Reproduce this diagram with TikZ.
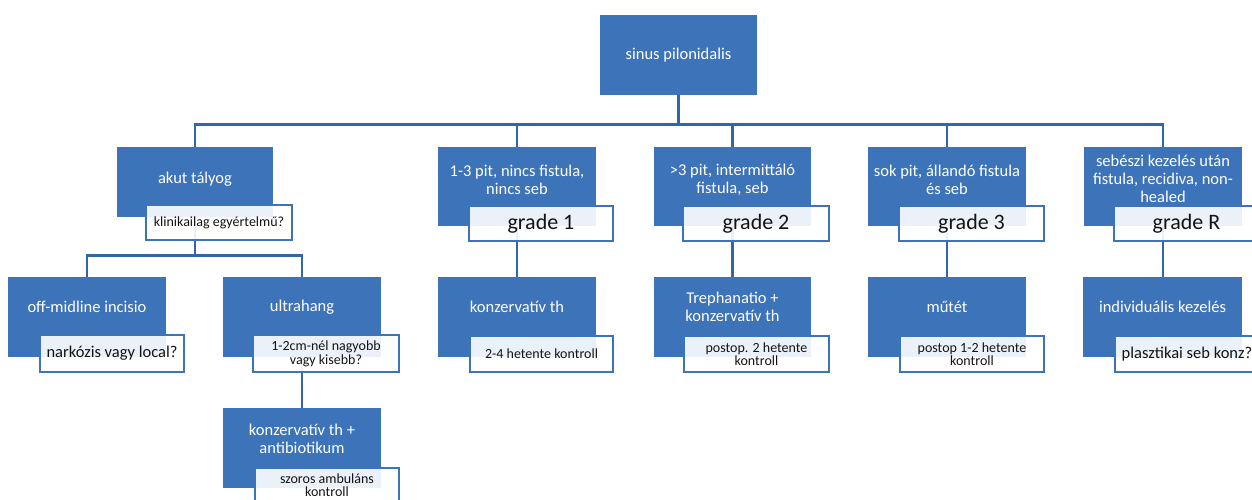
\documentclass[tikz,border=0pt]{standalone}
\usepackage{fontspec}
\setmainfont{Carlito}
\usetikzlibrary{fit}
\pgfdeclarelayer{bg}
\pgfsetlayers{bg,main}
\definecolor{boxblue}{RGB}{61,115,185}
\definecolor{lineblue}{RGB}{52,100,170}
\definecolor{txtdark}{RGB}{20,20,20}
\tikzset{
 bluebox/.style={fill=boxblue, draw=none, inner sep=0pt},
 whitebox/.style={fill=white, fill opacity=0.9, draw=boxblue, draw opacity=1, line width=2pt, inner sep=0pt},
 maintext/.style={text=white, font=\fontsize{16.5}{18}\selectfont, align=center, inner sep=0pt},
 gradetext/.style={text=txtdark, font=\fontsize{22}{24}\selectfont, inner sep=0pt},
 smalltext/.style={text=txtdark, font=\fontsize{14}{13.5}\selectfont, align=center, inner sep=0pt},
 midtext/.style={text=txtdark, font=\fontsize{16.5}{18}\selectfont, inner sep=0pt},
 conn/.style={draw=lineblue, line width=2.6pt},
}
\begin{document}
\begin{tikzpicture}[x=1pt,y=-1pt]
\useasboundingbox (0,0) rectangle (1252,499);
\begin{scope}
\clip (0,0) rectangle (1252,499);
% level 1
\node[bluebox, fit={(600,15) (757,95)}] (S) {};
\node[maintext] (St) at (678.5,55) {sinus pilonidalis};
% level 2
\node[bluebox, fit={(117,147) (273,217)}] (A) {};
\node[maintext] (At) at (195,179) {akut tályog};
\node[whitebox, fit={(146,205) (292,240)}] (Aw) {};
\node[smalltext] (Awt) at (219,222.5) {klinikailag egyértelmű?};

\node[bluebox, fit={(438,147) (596,226)}] (G1) {};
\node[maintext] (G1t) at (517,180) {1-3 pit, nincs fistula,\\nincs seb};
\node[whitebox, fit={(469,206) (613,241)}] (G1w) {};
\node[gradetext] (G1wt) at (541,223.5) {grade 1};

\node[bluebox, fit={(654,147) (811,226)}] (G2) {};
\node[maintext] (G2t) at (732.5,180) {>3 pit, intermittáló\\fistula, seb};
\node[whitebox, fit={(683,206) (829,241)}] (G2w) {};
\node[gradetext] (G2wt) at (756,223.5) {grade 2};

\node[bluebox, fit={(868,147) (1026,226)}] (G3) {};
\node[maintext] (G3t) at (947,180) {sok pit, állandó fistula\\és seb};
\node[whitebox, fit={(899,206) (1044,241)}] (G3w) {};
\node[gradetext] (G3wt) at (971.5,223.5) {grade 3};

\node[bluebox, fit={(1084,147) (1242,226)}] (GR) {};
\node[maintext] (GRt) at (1163,179) {sebészi kezelés után\\fistula, recidiva, non-\\healed};
\node[whitebox, fit={(1114,206) (1259,241)}] (GRw) {};
\node[gradetext] (GRwt) at (1186.5,223.5) {grade R};
% level 3
\node[bluebox, fit={(8,277) (166,357)}] (O) {};
\node[maintext] (Ot) at (87,307) {off-midline incisio};
\node[whitebox, fit={(40,335) (184,372)}] (Ow) {};
\node[midtext] (Owt) at (112,353.5) {narkózis vagy local?};

\node[bluebox, fit={(223,277) (381,357)}] (U) {};
\node[maintext] (Ut) at (302,307) {ultrahang};
\node[whitebox, fit={(253,335) (399,372)}] (Uw) {};
\node[smalltext] (Uwt) at (326,354) {1-2cm-nél nagyobb\\vagy kisebb?};

\node[bluebox, fit={(438,277) (596,357)}] (K1) {};
\node[maintext] (K1t) at (517,307) {konzervatív th};
\node[whitebox, fit={(470,336) (613,372)}] (K1w) {};
\node[smalltext] (K1wt) at (541.5,354) {2-4 hetente kontroll};

\node[bluebox, fit={(654,277) (811,357)}] (K2) {};
\node[maintext] (K2t) at (732.5,307) {Trephanatio +\\konzervatív th};
\node[whitebox, fit={(684,336) (829,372)}] (K2w) {};
\node[smalltext] (K2wt) at (756.5,354) {postop. 2 hetente\\kontroll};

\node[bluebox, fit={(868,277) (1026,357)}] (K3) {};
\node[maintext] (K3t) at (947,307) {műtét};
\node[whitebox, fit={(900,336) (1044,372)}] (K3w) {};
\node[smalltext] (K3wt) at (972,354) {postop 1-2 hetente\\kontroll};

\node[bluebox, fit={(1083,277) (1242,357)}] (KR) {};
\node[maintext] (KRt) at (1162.5,307) {individuális kezelés};
\node[whitebox, fit={(1115,336) (1260,372)}] (KRw) {};
\node[midtext] (KRwt) at (1187,354) {plasztikai seb konz?};
% level 4
\node[bluebox, fit={(223,408) (381,488)}] (KA) {};
\node[maintext] (KAt) at (302,439) {konzervatív th +\\antibiotikum};
\node[whitebox, fit={(255,468) (399,503)}] (KAw) {};
\node[smalltext] (KAwt) at (327,485) {szoros ambuláns\\kontroll};
% connectors
\begin{pgfonlayer}{bg}
\draw[conn] (S.south) -- ++(0,29) -| (A.north);
\draw[conn] (S.south) -- ++(0,29) -| (G1.north);
\draw[conn] (S.south) -- ++(0,29) -| (G2.north);
\draw[conn] (S.south) -- ++(0,29) -| (G3.north);
\draw[conn] (S.south) -- ++(0,29) -| (GR.north);
\draw[conn] (A.south) -- ++(0,38) -| (O.north);
\draw[conn] (A.south) -- ++(0,38) -| (U.north);
\draw[conn] (G1.south) -- (G1.south |- K1.north);
\draw[conn] (G2.south) -- (G2.south |- K2.north);
\draw[conn] (G3.south) -- (G3.south |- K3.north);
\draw[conn] (GR.south) -- (GR.south |- KR.north);
\draw[conn] (U.south) -- (U.south |- KA.north);
\end{pgfonlayer}
\end{scope}
\end{tikzpicture}
\end{document}
